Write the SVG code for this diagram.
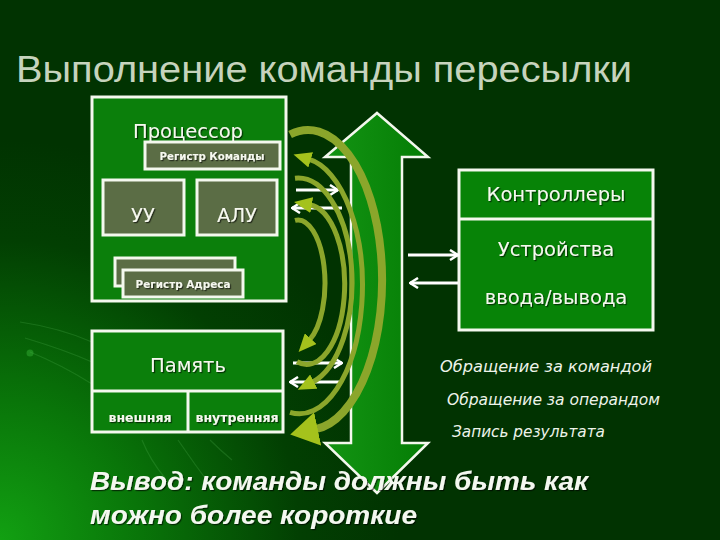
<svg xmlns="http://www.w3.org/2000/svg" width="720" height="540" viewBox="0 0 720 540">
<defs>
<radialGradient id="bg" cx="0" cy="540" r="400" gradientUnits="userSpaceOnUse">
<stop offset="0" stop-color="#12a012"/>
<stop offset="0.35" stop-color="#097509"/>
<stop offset="0.75" stop-color="#023f02"/>
<stop offset="1" stop-color="#013301"/>
</radialGradient>
<linearGradient id="bus" x1="0" y1="0" x2="1" y2="0">
<stop offset="0" stop-color="#139413"/>
<stop offset="1" stop-color="#057d05"/>
</linearGradient>
<filter id="sh" x="-10%" y="-20%" width="130%" height="150%">
<feDropShadow dx="1.2" dy="1.2" stdDeviation="0.6" flood-color="#000" flood-opacity="0.6"/>
</filter>
<marker id="hd" viewBox="0 0 18 16" refX="2" refY="8" markerWidth="18" markerHeight="16" markerUnits="userSpaceOnUse" orient="auto-start-reverse">
<path d="M0,0 L18,8 L0,16 z" fill="#a4c21c"/>
</marker>
<marker id="hdBig" viewBox="0 0 28 34" refX="2" refY="17" markerWidth="28" markerHeight="34" markerUnits="userSpaceOnUse" orient="auto-start-reverse">
<path d="M0,0 L28,17 L0,34 z" fill="#a4c21c"/>
</marker>
<marker id="wa" viewBox="0 0 10 12" refX="9" refY="6" markerWidth="10" markerHeight="12" markerUnits="userSpaceOnUse" orient="auto-start-reverse">
<path d="M1,1 L9,6 L1,11" fill="none" stroke="#ffffff" stroke-width="2.5"/>
</marker>
</defs>
<style>
.box{fill:#0b7f0b;stroke:#f4f8ee;stroke-width:3}
.inner{fill:#5b6d45;stroke:#f4f8ee;stroke-width:3}
.lbl{font-family:"DejaVu Sans",Verdana,sans-serif;fill:#f6f8ef;text-anchor:middle;filter:url(#sh)}
.big{font-size:19.5px}
.sm{font-size:10.5px;font-weight:bold}
.it{font-family:"DejaVu Sans",Verdana,sans-serif;font-style:italic;font-size:15.5px;fill:#eef3ea}
.arc{fill:none;stroke:#8ba62b;stroke-width:5}
.wline{fill:none;stroke:#ffffff;stroke-width:3;marker-end:url(#wa)}
.deco{fill:none;stroke:#5fbf5f;stroke-width:1.2;opacity:0.22}
</style>

<rect x="0" y="0" width="720" height="540" fill="url(#bg)"/>
<g id="decor">
<path class="deco" d="M20,322 Q60,328 92,342"/>
<path class="deco" d="M25,338 Q65,350 92,362"/>
<path class="deco" d="M30,352 Q62,365 92,384"/>
<circle cx="30" cy="353" r="3.5" fill="#3fbf3f" opacity="0.4"/>
<path class="deco" d="M142,440 Q150,460 165,478"/>
<path class="deco" d="M178,440 Q195,465 214,490"/>
<path class="deco" d="M210,440 Q220,450 232,460"/>
</g>

<text x="16" y="82" font-family="'Liberation Sans',Arial,sans-serif" font-size="36" fill="#c6d3bd" textLength="616" lengthAdjust="spacingAndGlyphs">Выполнение команды пересылки</text>

<g id="bus">
<polygon points="377,113 428,157 402,157 402,443 428,443 377,493 325,443 351,443 351,157 325,157" fill="url(#bus)" stroke="#f4f8ee" stroke-width="2.5" stroke-linejoin="miter"/>
</g>

<g id="processor">
<rect class="box" x="92" y="97" width="194" height="204"/>
<text class="lbl big" x="188" y="138">Процессор</text>
</g>
<g id="reg-cmd">
<rect class="inner" x="145" y="142" width="135" height="27"/>
<text class="lbl sm" x="212" y="160" textLength="105" lengthAdjust="spacingAndGlyphs">Регистр Команды</text>
</g>
<g id="uu">
<rect class="inner" x="103" y="180" width="81" height="55"/>
<text class="lbl big" x="143" y="222">УУ</text>
</g>
<g id="alu">
<rect class="inner" x="197" y="180" width="80" height="55"/>
<text class="lbl big" x="237" y="222">АЛУ</text>
</g>
<g id="reg-addr">
<rect class="inner" x="115" y="258" width="120" height="28"/>
<rect class="inner" x="123" y="270" width="120" height="27"/>
<text class="lbl sm" x="183" y="288" textLength="95" lengthAdjust="spacingAndGlyphs">Регистр Адреса</text>
</g>

<g id="memory">
<rect class="box" x="92" y="331" width="191" height="101"/>
<line x1="92" y1="391" x2="283" y2="391" stroke="#f4f8ee" stroke-width="3"/>
<line x1="188" y1="391" x2="188" y2="432" stroke="#f4f8ee" stroke-width="3"/>
<text class="lbl big" x="188" y="372">Память</text>
<text class="lbl" x="140" y="422" font-size="12" font-weight="bold" textLength="63" lengthAdjust="spacingAndGlyphs">внешняя</text>
<text class="lbl" x="237" y="422" font-size="12" font-weight="bold" textLength="83" lengthAdjust="spacingAndGlyphs">внутренняя</text>
</g>

<g id="io">
<rect class="box" x="459" y="170" width="194" height="160" style="fill:#078307"/>
<line x1="459" y1="219" x2="653" y2="219" stroke="#f4f8ee" stroke-width="3"/>
<text class="lbl big" x="556" y="201">Контроллеры</text>
<text class="lbl big" x="556" y="256">Устройства</text>
<text class="lbl big" x="556" y="304">ввода/вывода</text>
</g>

<g id="connectors">
<path class="wline" d="M296,190 L338,190"/>
<path class="wline" d="M342,208 L292,208"/>
<path class="wline" d="M293,363 L342,363"/>
<path class="wline" d="M342,382 L290,382"/>
<path class="wline" d="M408,255 L458,255"/>
<path class="wline" d="M458,283 L410,283"/>
<path class="arc" style="stroke-width:8;marker-end:url(#hdBig)" d="M290.1,134.5 A74,150 0 1 1 315.7,429.2"/>
<path class="arc" style="marker-start:url(#hd)" d="M308.8,159.2 A63,128 0 1 1 290,412.4"/>
<path class="arc" style="marker-end:url(#hd)" d="M295,178.2 A54,104 0 0 1 312,382.5"/>
<path class="arc" style="marker-start:url(#hd)" d="M309.8,204.7 A38,80 0 1 1 297,361.8"/>
<path class="arc" style="marker-end:url(#hd)" d="M295,220.4 A27,63 0 0 1 309.4,340.1"/>
</g>

<g id="labels">
<text class="it" x="440" y="372" textLength="212" lengthAdjust="spacingAndGlyphs">Обращение за командой</text>
<text class="it" x="447" y="405" textLength="213" lengthAdjust="spacingAndGlyphs">Обращение за операндом</text>
<text class="it" x="452" y="437" textLength="153" lengthAdjust="spacingAndGlyphs">Запись результата</text>
</g>

<g id="conclusion" font-family="'Liberation Sans',Arial,sans-serif" font-size="26" font-weight="bold" font-style="italic" fill="#f4f8f0" filter="url(#sh)">
<text x="90" y="490" textLength="498" lengthAdjust="spacingAndGlyphs">Вывод: команды должны быть как</text>
<text x="90" y="524" textLength="327" lengthAdjust="spacingAndGlyphs">можно более короткие</text>
</g>
</svg>
